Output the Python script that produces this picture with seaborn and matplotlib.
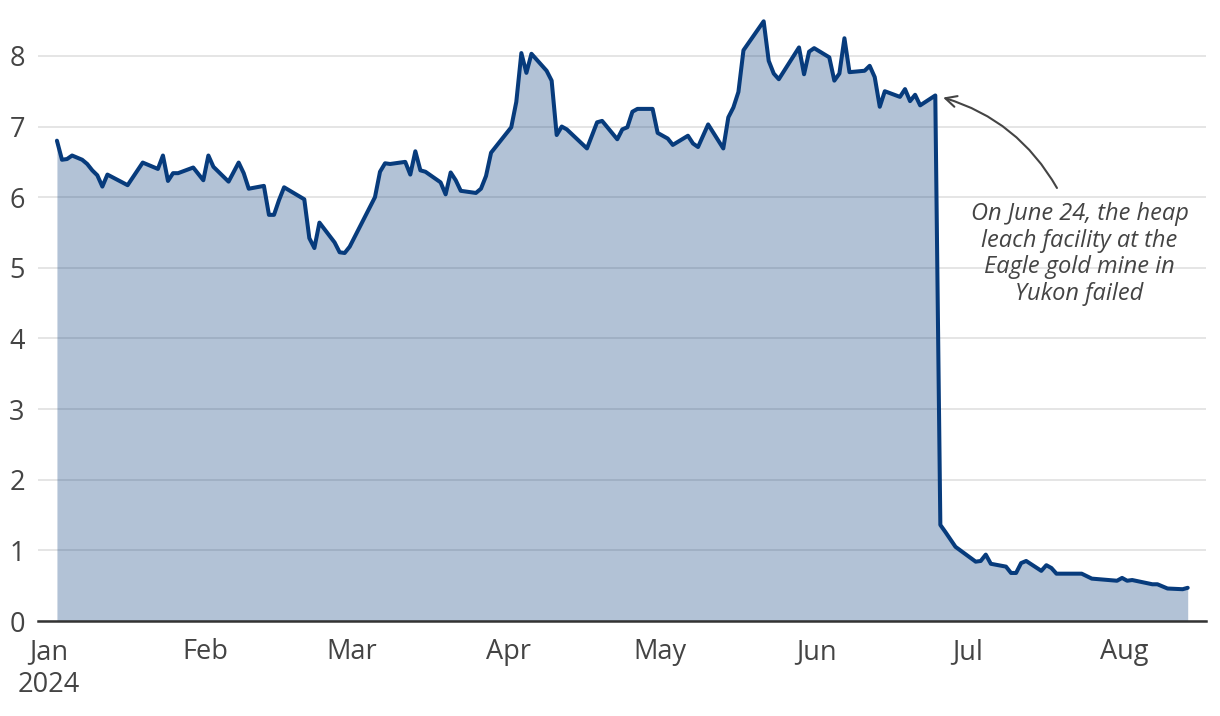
import matplotlib
matplotlib.use("Agg")
import matplotlib.pyplot as plt
import matplotlib.transforms as mtransforms
import seaborn as sns
import pandas as pd

# ---- data ----
dates = [
    "2024-01-02", "2024-01-03", "2024-01-04", "2024-01-05", "2024-01-07", "2024-01-08", "2024-01-09",
    "2024-01-10", "2024-01-11", "2024-01-12", "2024-01-16", "2024-01-19", "2024-01-22", "2024-01-23",
    "2024-01-24", "2024-01-25", "2024-01-26", "2024-01-29", "2024-01-31",
    "2024-02-01", "2024-02-02", "2024-02-05", "2024-02-07", "2024-02-08", "2024-02-09", "2024-02-12",
    "2024-02-13", "2024-02-14", "2024-02-15", "2024-02-16", "2024-02-20", "2024-02-21", "2024-02-22",
    "2024-02-23", "2024-02-26", "2024-02-27", "2024-02-28", "2024-02-29",
    "2024-03-05", "2024-03-06", "2024-03-07", "2024-03-08", "2024-03-11", "2024-03-12", "2024-03-13",
    "2024-03-14", "2024-03-15", "2024-03-18", "2024-03-19", "2024-03-20", "2024-03-21", "2024-03-22",
    "2024-03-25", "2024-03-26", "2024-03-27", "2024-03-28",
    "2024-04-01", "2024-04-02", "2024-04-03", "2024-04-04", "2024-04-05", "2024-04-08", "2024-04-09",
    "2024-04-10", "2024-04-11", "2024-04-12", "2024-04-16", "2024-04-18", "2024-04-19", "2024-04-22",
    "2024-04-23", "2024-04-24", "2024-04-25", "2024-04-26", "2024-04-29", "2024-04-30",
    "2024-05-02", "2024-05-03", "2024-05-06", "2024-05-07", "2024-05-08", "2024-05-10", "2024-05-13",
    "2024-05-14", "2024-05-15", "2024-05-16", "2024-05-17", "2024-05-21", "2024-05-22", "2024-05-23",
    "2024-05-24", "2024-05-28", "2024-05-29", "2024-05-30", "2024-05-31",
    "2024-06-03", "2024-06-04", "2024-06-05", "2024-06-06", "2024-06-07", "2024-06-10", "2024-06-11",
    "2024-06-12", "2024-06-13", "2024-06-14", "2024-06-17", "2024-06-18", "2024-06-19", "2024-06-20",
    "2024-06-21", "2024-06-24", "2024-06-25", "2024-06-26", "2024-06-28",
    "2024-07-02", "2024-07-03", "2024-07-04", "2024-07-05", "2024-07-08", "2024-07-09", "2024-07-10",
    "2024-07-11", "2024-07-12", "2024-07-15", "2024-07-16", "2024-07-17", "2024-07-18", "2024-07-23",
    "2024-07-25", "2024-07-30", "2024-07-31",
    "2024-08-01", "2024-08-02", "2024-08-06", "2024-08-07", "2024-08-09", "2024-08-12", "2024-08-13",
]

prices = [
    6.80, 6.53, 6.54, 6.59, 6.53, 6.47, 6.38, 6.31, 6.15, 6.32, 6.17, 6.49, 6.40, 6.59, 6.23, 6.34,
    6.34, 6.42, 6.24,
    6.59, 6.43, 6.22, 6.49, 6.34, 6.12, 6.16, 5.75, 5.75, 5.96, 6.14, 5.97, 5.42, 5.28, 5.64, 5.36,
    5.22, 5.21, 5.30,
    6.00, 6.36, 6.48, 6.47, 6.50, 6.32, 6.65, 6.38, 6.36, 6.21, 6.04, 6.35, 6.24, 6.09, 6.06, 6.12,
    6.30, 6.63,
    6.99, 7.35, 8.04, 7.76, 8.03, 7.79, 7.65, 6.88, 7.00, 6.96, 6.69, 7.06, 7.08, 6.82, 6.96, 6.99,
    7.21, 7.25, 7.25, 6.91,
    6.83, 6.74, 6.87, 6.76, 6.71, 7.03, 6.69, 7.13, 7.27, 7.49, 8.08, 8.49, 7.93, 7.75, 7.67, 8.12,
    7.74, 8.06, 8.11,
    7.98, 7.65, 7.75, 8.25, 7.77, 7.79, 7.86, 7.70, 7.28, 7.50, 7.42, 7.53, 7.36, 7.45, 7.30, 7.44,
    1.36, 1.26, 1.05,
    0.84, 0.85, 0.94, 0.81, 0.77, 0.68, 0.68, 0.82, 0.85, 0.71, 0.79, 0.75, 0.67, 0.67, 0.60, 0.57,
    0.61,
    0.57, 0.58, 0.52, 0.52, 0.46, 0.45, 0.47,
]

month_ticks = ["2024-01-01", "2024-02-01", "2024-03-01", "2024-04-01",
               "2024-05-01", "2024-06-01", "2024-07-01", "2024-08-01"]
month_labels = ["Jan\n2024", "Feb", "Mar", "Apr", "May", "Jun", "Jul", "Aug"]
y_ticks = [0, 1, 2, 3, 4, 5, 6, 7, 8]

annotation_text = "On June 24, the heap\nleach facility at the\nEagle gold mine in\nYukon failed"
annotation_target_date = "2024-06-25 13:00"
annotation_target_value = 7.41

# ---- styling ----
sns.set_theme(style="white")
plt.rcParams["font.family"] = ["Open Sans", "DejaVu Sans"]

LINE = "#073b7c"
TEXT = "#444444"

df = pd.DataFrame({"date": pd.to_datetime(dates), "price": prices})

fig = plt.figure(figsize=(12.2, 7.16), dpi=100)
ax = fig.add_axes([38 / 1220, 1 - 621 / 716, (1206 - 38) / 1220, (621 - 10) / 716])

ax.fill_between(df["date"], df["price"], 0, color=LINE, alpha=0.31, lw=0, zorder=1)
sns.lineplot(data=df, x="date", y="price", ax=ax, color=LINE, lw=2.9, zorder=3)

ax.set_xlim(pd.Timestamp("2023-12-29 06:00"), pd.Timestamp("2024-08-16 15:00"))
ax.set_ylim(0, 8.65)

ax.set_xticks(pd.to_datetime(month_ticks))
ax.set_xticklabels(month_labels, linespacing=1.25)
ax.set_yticks(y_ticks)
ax.set_yticklabels([str(v) for v in y_ticks])

ax.tick_params(axis="x", length=0, pad=12, labelsize=19.5, labelcolor=TEXT)
ax.tick_params(axis="y", length=0, pad=9.5, labelsize=19.5, labelcolor=TEXT)

# nudge month labels slightly left, as in the reference
shift = mtransforms.ScaledTranslation(-3 / 100, 0, fig.dpi_scale_trans)
for lbl in ax.get_xticklabels():
    lbl.set_transform(lbl.get_transform() + shift)

ax.set_xlabel("")
ax.set_ylabel("")

ax.set_axisbelow(True)
ax.yaxis.grid(True, color="#e3e3e3", lw=1.3)
ax.xaxis.grid(False)

for side in ["top", "right", "left"]:
    ax.spines[side].set_visible(False)
ax.spines["bottom"].set_color("#333333")
ax.spines["bottom"].set_linewidth(1.8)
ax.spines["bottom"].set_zorder(4)

ax.text(0.8917, 0.6007, annotation_text, transform=ax.transAxes, ha="center", va="center",
        fontsize=17, style="italic", color=TEXT, linespacing=1.15)

ax.annotate("", xy=(pd.Timestamp(annotation_target_date), annotation_target_value), xycoords="data",
            xytext=(0.8724, 0.7087), textcoords="axes fraction",
            arrowprops=dict(arrowstyle="->", color=TEXT, lw=1.5, mutation_scale=20,
                            connectionstyle="arc3,rad=0.2", shrinkA=0, shrinkB=0))

fig.savefig("out.png", dpi=100, facecolor="white")
